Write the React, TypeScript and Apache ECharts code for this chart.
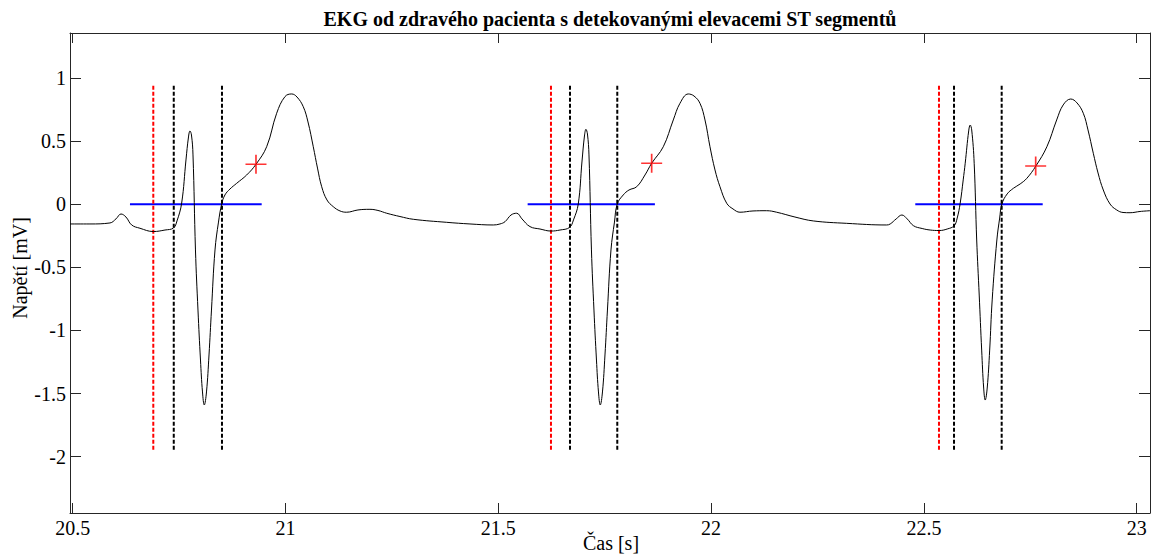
import React, { useEffect, useRef } from "react";
import * as echarts from "echarts";

// ---- data ----
const ekgTime = [
  20.4937, 20.5406, 20.5876, 20.6017, 20.6135, 20.6252, 20.6386, 20.6581, 20.6894, 20.7169,
  20.7368, 20.7451, 20.7561, 20.7662, 20.7721, 20.7756, 20.7791, 20.7827, 20.7885, 20.7944,
  20.8003, 20.805, 20.8092, 20.8144, 20.8203, 20.8261, 20.8344, 20.8426, 20.8501, 20.8578,
  20.8696, 20.8853, 20.9088, 20.9307, 20.9558, 20.9793, 20.9988, 21.0146, 21.027, 21.0418,
  21.0529, 21.0653, 21.0752, 21.0851, 21.0975, 21.1123, 21.1281, 21.1438, 21.1703, 21.1985,
  21.2173, 21.2378, 21.269, 21.3003, 21.3788, 21.4335, 21.4883, 21.504, 21.5158, 21.5299,
  21.5432, 21.5557, 21.5745, 21.598, 21.6238, 21.645, 21.6673,
  21.6767, 21.6879, 21.6966, 21.7025, 21.706, 21.7095, 21.7131, 21.7189, 21.7248, 21.7307,
  21.7354, 21.7396, 21.7448, 21.7507, 21.7565, 21.7648, 21.773, 21.7796, 21.7937, 21.8071,
  21.8252, 21.8447, 21.8604, 21.8877, 21.9112, 21.9269, 21.9464, 21.9598, 21.9739, 21.9857,
  21.9974, 22.0092, 22.0209, 22.0367, 22.0515, 22.0679, 22.0985, 22.1306, 22.1541, 22.1971,
  22.2401, 22.3186, 22.4126,
  22.4209, 22.4349, 22.4483, 22.4608, 22.4756, 22.496, 22.5148, 22.536, 22.5548, 22.5712,
  22.5783, 22.5853, 22.5924, 22.5971, 22.6053, 22.6088, 22.6124, 22.6182, 22.6241, 22.63,
  22.6358, 22.6405, 22.6441, 22.6488, 22.6546, 22.6605, 22.6715, 22.6781, 22.6833, 22.6957,
  22.7105, 22.7262, 22.742, 22.7631, 22.789, 22.812, 22.8273, 22.845, 22.8598, 22.8746,
  22.8856, 22.8981, 22.9092, 22.9216, 22.9374, 22.9531, 22.9679, 22.9844, 23.0079, 23.0313,
];
const ekgVolt = [
  -0.156, -0.156, -0.148, -0.116, -0.077, -0.101, -0.164, -0.19, -0.216, -0.204,
  -0.188, -0.132, 0.01, 0.351, 0.533, 0.581, 0.549, 0.391, -0.362, -0.838,
  -1.234, -1.487, -1.59, -1.487, -1.194, -0.838, -0.362, -0.141, 0.002, 0.074,
  0.121, 0.166, 0.232, 0.317, 0.456, 0.721, 0.853, 0.874, 0.85, 0.773,
  0.652, 0.456, 0.287, 0.139, 0.034, -0.019, -0.053, -0.063, -0.045, -0.04,
  -0.049, -0.071, -0.097, -0.119, -0.143, -0.156, -0.164, -0.156, -0.138, -0.085,
  -0.071, -0.116, -0.177, -0.196, -0.212, -0.204, -0.184,
  -0.124, 0.002, 0.335, 0.541, 0.594, 0.557, 0.391, -0.362, -0.838, -1.234,
  -1.487, -1.59, -1.487, -1.194, -0.838, -0.362, -0.141, 0.002, 0.074, 0.113,
  0.139, 0.232, 0.325, 0.456, 0.668, 0.8, 0.874, 0.858, 0.8, 0.668,
  0.456, 0.272, 0.139, 0.008, -0.037, -0.063, -0.053, -0.051, -0.063, -0.101,
  -0.132, -0.151, -0.164,
  -0.156, -0.116, -0.085, -0.116, -0.17, -0.192, -0.204, -0.208, -0.196, -0.17,
  -0.109, 0.008, 0.193, 0.325, 0.581, 0.628, 0.589, 0.325, -0.283, -0.719,
  -1.155, -1.456, -1.551, -1.456, -1.155, -0.758, -0.283, -0.109, 0.002, 0.082,
  0.127, 0.161, 0.206, 0.303, 0.456, 0.668, 0.787, 0.834, 0.803, 0.721,
  0.589, 0.404, 0.248, 0.113, 0.002, -0.045, -0.065, -0.067, -0.057, -0.051,
];

// detected points
const pOnsetT = [20.6894, 21.6238, 22.5355]; // red dashed
const qrsOnT = [20.7375, 21.6685, 22.5708]; // black dashed
const qrsOffT = [20.8508, 21.7796, 22.6828]; // black dashed
const markerTop = 0.94;
const markerBottom = -1.95;
const isoStartT = [20.6346, 21.569, 22.4798];
const isoEndT = [20.9441, 21.868, 22.7792];
const isoLevel = [0, 0, 0];
const stT = [20.9307, 21.8604, 22.7627];
const stV = [0.317, 0.325, 0.303];

const xTicks = [20.5, 21, 21.5, 22, 22.5, 23];
const yTicks = [-2, -1.5, -1, -0.5, 0, 0.5, 1];
const xMin = 20.4937;
const xMax = 23.0313;
const yMin = -2.446;
const yMax = 1.357;

const titleText = "EKG od zdravého pacienta s detekovanými elevacemi ST segmentů";
const xName = "Čas [s]";
const yName = "Napětí [mV]";

const FONT = "Liberation Serif";
const AXIS_COLOR = "#262626";

export default function App() {
  const ref = useRef<HTMLDivElement>(null);

  useEffect(() => {
    if (!ref.current) return;
    const chart = echarts.init(ref.current, undefined, { renderer: "svg" });

    const labelStyle = {
      fontFamily: FONT,
      fontSize: 20,
      color: "#000",
    };

    const vLine = (t: number, color: string) => ({
      type: "line",
      data: [
        [t, markerTop],
        [t, markerBottom],
      ],
      showSymbol: false,
      symbol: "none",
      silent: true,
      lineStyle: { color, width: 2, type: [4, 2] },
      z: 3,
    });

    const series: any[] = [];
    isoStartT.forEach((s, i) => {
      series.push({
        type: "line",
        data: [
          [s, isoLevel[i]],
          [isoEndT[i], isoLevel[i]],
        ],
        symbol: "none",
        silent: true,
        lineStyle: { color: "#0000ff", width: 2 },
        z: 2,
      });
    });
    pOnsetT.forEach((t) => series.push(vLine(t, "#ff0000")));
    qrsOnT.forEach((t) => series.push(vLine(t, "#000000")));
    qrsOffT.forEach((t) => series.push(vLine(t, "#000000")));
    series.push({
      type: "line",
      data: ekgTime.map((t, i) => [t, ekgVolt[i]]),
      symbol: "none",
      smooth: 0.4,
      lineStyle: { color: "#000", width: 1 },
      z: 4,
    });
    series.push({
      type: "scatter",
      data: stT.map((t, i) => [t, stV[i]]),
      symbol: "path://M9.2,0h1.6v20h-1.6z M0,9.2h20v1.6h-20z",
      symbolSize: [21, 19],
      itemStyle: { color: "#ff0000" },
      z: 5,
    });

    const xAxisBase = {
      type: "value",
      min: xMin,
      max: xMax,
      splitLine: { show: false },
      axisLine: { show: true, onZero: false, lineStyle: { color: AXIS_COLOR, width: 1 } },
      axisTick: {
        show: true,
        inside: true,
        length: 10,
        customValues: xTicks,
        lineStyle: { color: AXIS_COLOR, width: 1 },
      },
    };
    const yAxisBase = {
      type: "value",
      min: yMin,
      max: yMax,
      splitLine: { show: false },
      axisLine: { show: true, onZero: false, lineStyle: { color: AXIS_COLOR, width: 1 } },
      axisTick: {
        show: true,
        inside: true,
        length: 11,
        customValues: yTicks,
        lineStyle: { color: AXIS_COLOR, width: 1 },
      },
    };

    chart.setOption({
      animation: false,
      backgroundColor: "#fff",
      grid: { left: 70, top: 33, right: 3, bottom: 41, containLabel: false },
      xAxis: [
        {
          ...xAxisBase,
          position: "bottom",
          axisLabel: {
            ...labelStyle,
            customValues: xTicks,
            margin: 5,
            formatter: (v: number) => String(v),
          },
        },
        {
          ...xAxisBase,
          position: "top",
          axisLabel: { show: false },
        },
      ],
      yAxis: [
        {
          ...yAxisBase,
          position: "left",
          axisLabel: {
            ...labelStyle,
            customValues: yTicks,
            margin: 4,
            padding: [3, 0, 0, 0],
            formatter: (v: number) => String(v),
          },
        },
        {
          ...yAxisBase,
          position: "right",
          axisLabel: { show: false },
        },
      ],
      graphic: [
        {
          type: "text",
          x: 610,
          y: 19,
          style: {
            text: titleText,
            fontFamily: FONT,
            fontSize: 20,
            fontWeight: "bold",
            fill: "#000",
            textAlign: "center",
            textVerticalAlign: "middle",
          },
        },
        {
          type: "text",
          x: 611,
          y: 543,
          style: {
            text: xName,
            fontFamily: FONT,
            fontSize: 20,
            fill: "#000",
            textAlign: "center",
            textVerticalAlign: "middle",
          },
        },
        {
          type: "text",
          x: 19.5,
          y: 268,
          rotation: Math.PI / 2,
          style: {
            text: yName,
            fontFamily: FONT,
            fontSize: 20,
            fill: "#000",
            textAlign: "center",
            textVerticalAlign: "middle",
          },
        },
      ],
      series,
    });

    return () => chart.dispose();
  }, []);

  return (
    <div
      ref={ref}
      style={{ position: "fixed", left: 0, top: 0, width: 1153, height: 554, background: "#fff" }}
    />
  );
}
